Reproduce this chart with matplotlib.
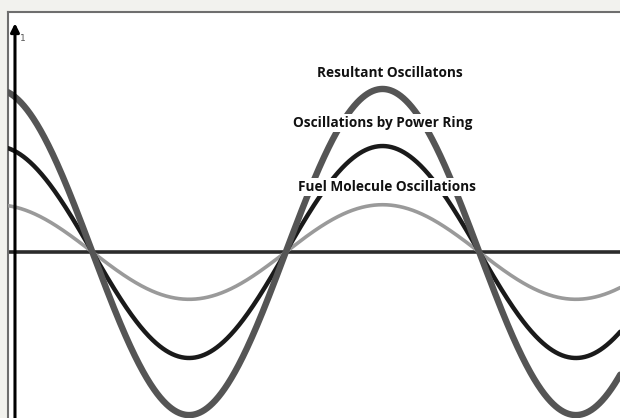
import numpy as np
import matplotlib
matplotlib.use('agg')
import matplotlib.pyplot as plt

# wave parameters (angle in degrees, y in resultant units)
names = ['Fuel Molecule Oscillations', 'Oscillations by Power Ring', 'Resultant Oscillatons']
amplitudes = [0.29, 0.65, 1.0]
colors = ['#9a9a9a', '#1a1a1a', '#555555']
widths = [2.6, 3.2, 4.6]
phase = 18.0            # degrees, cos(theta + phase)
label_x = [346, 342, 349]
label_y = [0.40, 0.79, 1.10]

theta = np.linspace(-10, 570, 1200)

fig = plt.figure(figsize=(6.2, 4.18), dpi=100)
fig.patch.set_facecolor('#f2f2ee')
ax = fig.add_axes([8 / 620, 0, 612 / 620, 406 / 418])
ax.set_facecolor('white')
ax.set_xlim(-6.5, 563)
ax.set_ylim(-1.018, 1.472)
for side in ['right', 'bottom']:
    ax.spines[side].set_visible(False)
for side in ['left', 'top']:
    ax.spines[side].set_color('#6e6e6e')
    ax.spines[side].set_linewidth(1.5)
ax.set_xticks([])
ax.set_yticks([])

# axes of the diagram
ax.axhline(0, color='#2b2b2b', lw=2.6, zorder=2)
ax.annotate('', xy=(0, 1.42), xytext=(0, -1.05),
            arrowprops=dict(arrowstyle='-|>,head_width=0.25,head_length=0.5',
                            color='black', lw=2.2), zorder=5)
ax.text(7.5, 1.31, '1', fontsize=6.5, color='#555555', ha='center', va='center')

for name, amp, c, w in zip(names, amplitudes, colors, widths):
    y = amp * np.cos(np.radians(theta + phase))
    ax.plot(theta, y, color=c, lw=w, solid_capstyle='round', zorder=3)

for name, lx, ly in zip(names, label_x, label_y):
    ax.text(lx, ly, name, fontsize=9.8, fontweight='bold', family='Open Sans',
            color='#111111', ha='center', va='center', zorder=6,
            bbox=dict(boxstyle='square,pad=0.15', fc='white', ec='none'))

fig.savefig('out.png', dpi=100, facecolor=fig.get_facecolor())
plt.close()
